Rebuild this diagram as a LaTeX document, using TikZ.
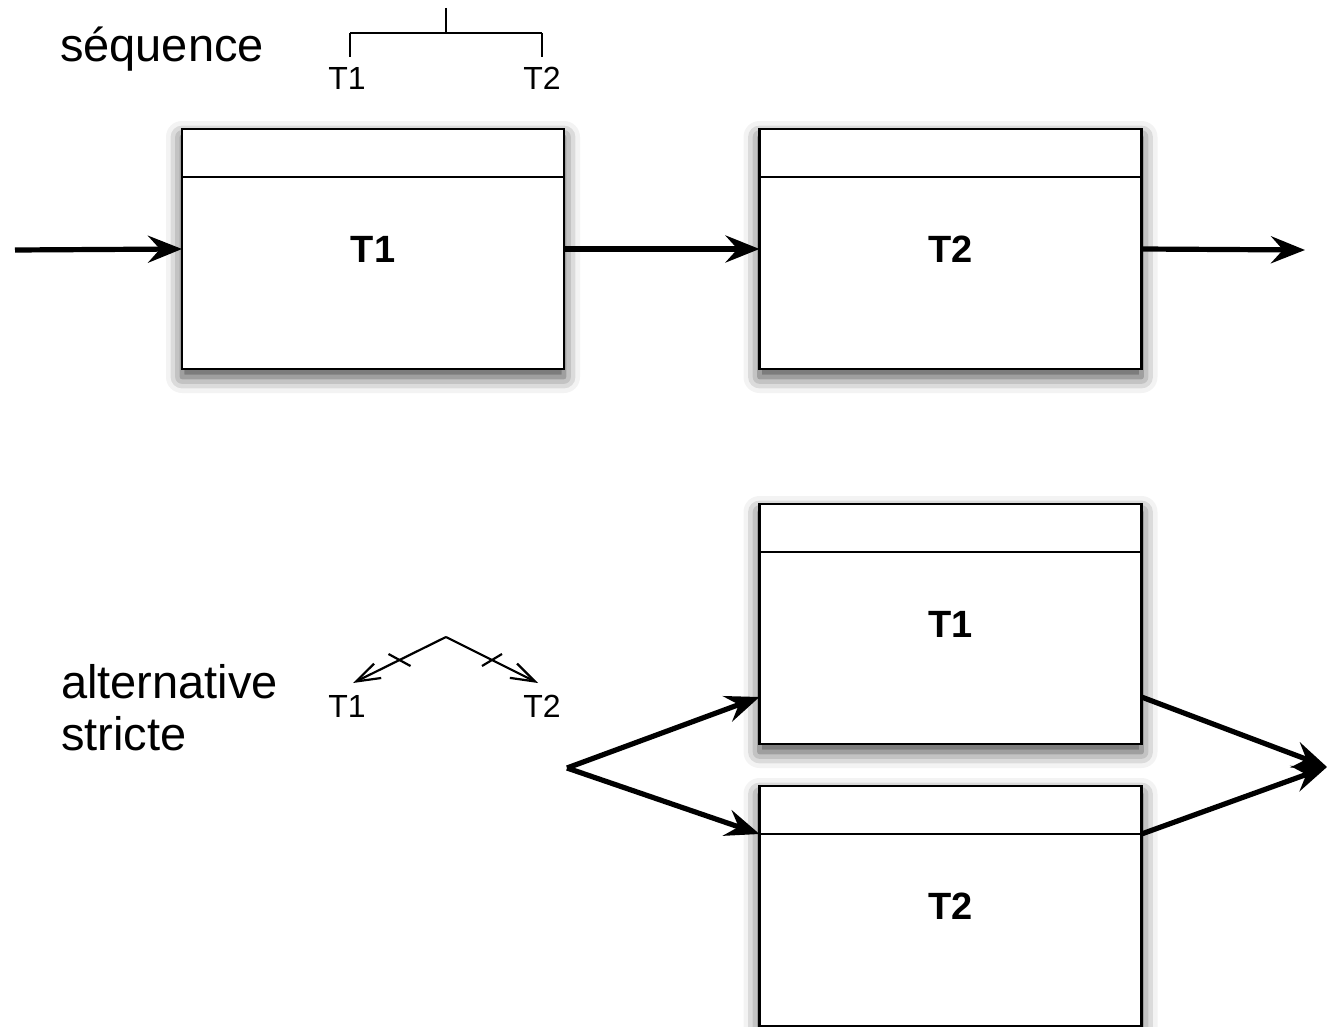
\documentclass[tikz,border=0pt]{standalone}
\usepackage{fontspec}
\setmainfont{Liberation Sans}
\usetikzlibrary{arrows.meta,calc,shadows.blur}

\tikzset{
  task/.style={draw, line width=1.2pt, fill=white, outer sep=0pt,
    minimum width=191pt, minimum height=120pt,
    font=\bfseries\fontsize{19}{22}\selectfont,
    blur shadow={shadow xshift=0pt, shadow yshift=-4pt,
      shadow blur radius=8pt, shadow opacity=75}},
  flow/.style={line width=2.6pt, -{Stealth[length=17pt,width=13.5pt,inset=6pt]}},
  tree/.style={line width=1.1pt},
  small/.style={font=\fontsize{16}{18}\selectfont},
  title/.style={font=\fontsize{23.5}{26}\selectfont, align=left, anchor=base west}
}

\begin{document}
\begin{tikzpicture}[x=0.5pt,y=-0.5pt]
\useasboundingbox (0,0) rectangle (1328,1027);

% sequence
\node [title] (seq) at (53,62) {séquence};
\coordinate (s0) at (446,8);
\coordinate (s1) at (446,33);
\coordinate (sl) at (350,33);
\coordinate (sr) at (542,33);
\node [small] (st1) at (347,78) {T1};
\node [small] (st2) at (542,78) {T2};
\draw [tree] (s0) -- (s1) (sl) -- (sr) (sl) -- ++(0,24) (sr) -- ++(0,24);

\node [task] (b1) at (373,249) {T1};
\node [task] (b2) at (950.5,249) {T2};
\coordinate (in) at (15,250);
\coordinate (out) at (1305,250);
\draw [flow] (in) -- (b1.west);
\draw [flow] (b1.east) -- (b2.west);
\draw [flow] (b2.east) -- (out);

% alternative stricte
\node [title] (alt) at (54,750) {alternative\\stricte};
\coordinate (a0) at (446,637);
\coordinate (al) at (353,683);
\coordinate (ar) at (538,683);
\node [small] (at1) at (347,706) {T1};
\node [small] (at2) at (542,706) {T2};
\draw [tree, -{Straight Barb[length=12pt,width=8pt]}] (a0) -- (al);
\draw [tree, -{Straight Barb[length=12pt,width=8pt]}] (a0) -- (ar);
\draw [tree] ($(a0)!0.5!(al)$) ++(-11,-6) -- ++(22,12);
\draw [tree] ($(a0)!0.5!(ar)$) ++(-10,6) -- ++(20,-12);

\node [task] (b3) at (950.5,624) {T1};
\node [task] (b4) at (950.5,906) {T2};
\coordinate (split) at (567,768);
\coordinate (join) at (1327,767);
\draw [flow] (split) -- ([yshift=23.5pt]b3.south west);
\draw [flow] (split) -- ([yshift=-24pt]b4.north west);
\draw [flow] ([yshift=23.5pt]b3.south east) -- (join);
\draw [flow] ([yshift=-24pt]b4.north east) -- (join);

% header lines
\foreach \b in {b1,b2,b3,b4}
  \draw [line width=1.2pt] ([yshift=-24pt]\b.north west) -- ([yshift=-24pt]\b.north east);
\end{tikzpicture}
\end{document}
